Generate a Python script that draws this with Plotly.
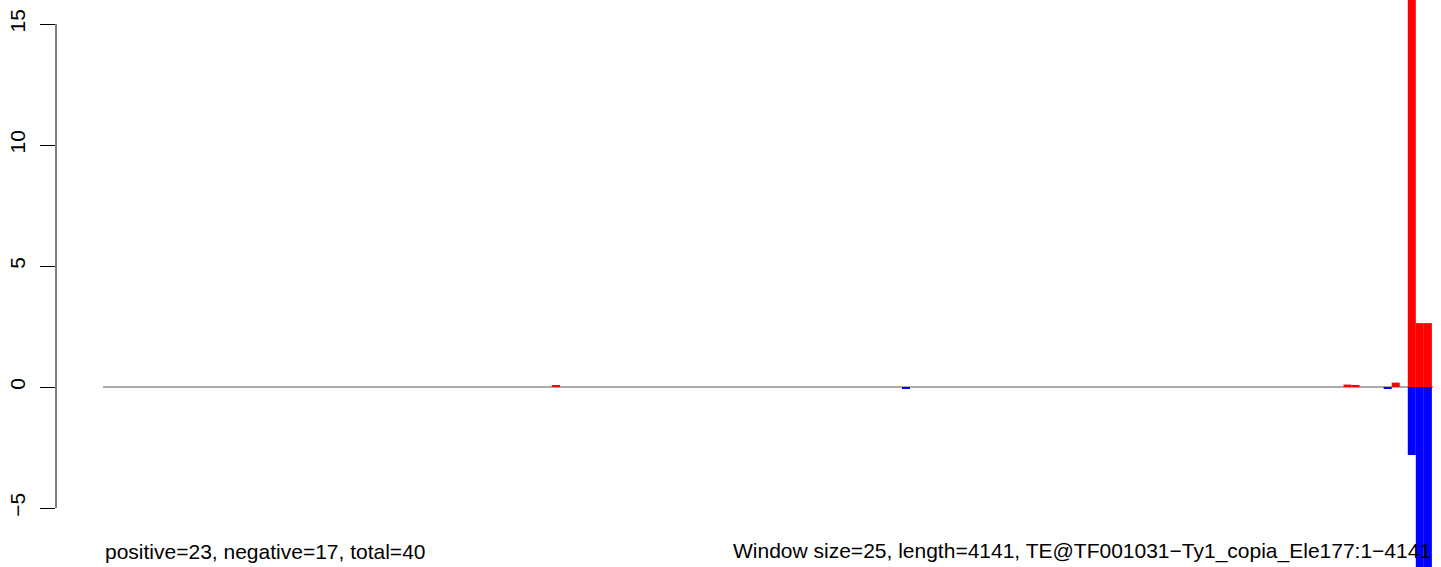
import plotly.graph_objects as go

# ---- data ----
WINDOW = 25
LENGTH = 4141
pos_x = [1410, 3875, 3900, 4025, 4075, 4100, 4125]
pos_y = [0.06, 0.10, 0.06, 0.18, 17.0, 2.64, 2.64]
neg_x = [2500, 4000, 4075, 4100, 4125]
neg_y = [-0.06, -0.08, -2.81, -7.8, -7.8]
y_ticks = [-5, 0, 5, 10, 15]
left_text = "positive=23, negative=17, total=40"
right_text = "Window size=25, length=4141, TE@TF001031\u2212Ty1_copia_Ele177:1\u22124141"

FONT = "Liberation Sans, Arial, Helvetica, sans-serif"
W, H = 1441, 567
ML = 56
k = 1330 / LENGTH  # px per bp
x0 = -(103 - ML) / k
x1 = x0 + (W - ML) / k

fig = go.Figure()
fig.add_trace(go.Bar(x=pos_x, y=pos_y, width=WINDOW, marker=dict(color="#ff0000", line=dict(width=0)),
                     showlegend=False, hoverinfo="skip"))
fig.add_trace(go.Bar(x=neg_x, y=neg_y, width=WINDOW, marker=dict(color="#0000ff", line=dict(width=0)),
                     showlegend=False, hoverinfo="skip"))

# zero line across the sequence length (under bars)
fig.add_shape(type="line", xref="x", yref="y", x0=0, x1=LENGTH, y0=0, y1=0,
              line=dict(color="#555555", width=1), layer="below")
# y-axis line from first to last tick
fig.add_shape(type="line", xref="paper", yref="y", x0=0, x1=0, y0=y_ticks[0], y1=y_ticks[-1],
              line=dict(color="black", width=1))

fig.add_annotation(x=0, y=1 - 551 / H, xref="x", yref="paper", text=left_text, showarrow=False,
                   xanchor="left", yanchor="middle", font=dict(family=FONT, size=21, color="black"))
fig.add_annotation(x=LENGTH, y=1 - 551 / H, xref="x", yref="paper", text=right_text, showarrow=False,
                   xanchor="right", yanchor="middle", font=dict(family=FONT, size=21, color="black"))

fig.update_layout(
    width=W, height=H,
    margin=dict(l=ML, r=0, t=0, b=0, autoexpand=False),
    paper_bgcolor="white", plot_bgcolor="white",
    barmode="overlay",
    xaxis=dict(range=[x0, x1], showgrid=False, zeroline=False, showticklabels=False,
               ticks="", showline=False, automargin=False),
    yaxis=dict(range=[-(H - 387) / 24.2, 387 / 24.2], tickvals=y_ticks,
               ticktext=[str(v).replace("-", "\u2212") for v in y_ticks],
               showgrid=False, zeroline=False, showline=False, automargin=False,
               ticks="outside", ticklen=15, tickwidth=1, tickcolor="black",
               ticklabelstandoff=7,
               tickangle=-90, tickfont=dict(family=FONT, size=21, color="black")),
)

fig.write_html("out.html", config={"displayModeBar": False},
               post_script="document.body.style.margin='0';document.body.style.overflow='hidden';")
